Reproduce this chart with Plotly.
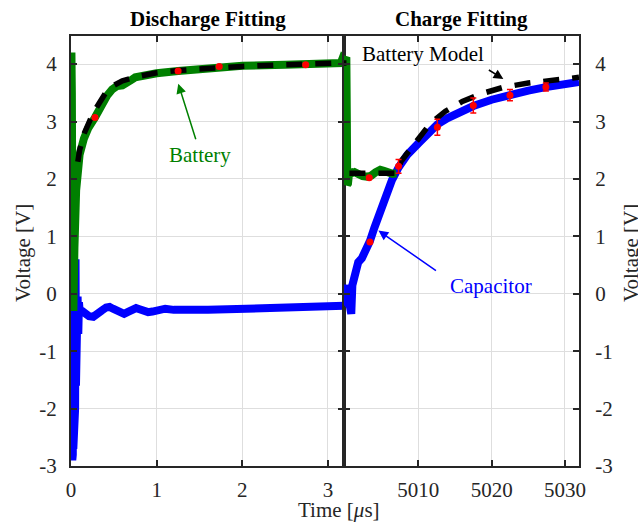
import plotly.graph_objects as go

# ---------------- data ----------------
# Discharge (left panel), time in microseconds
bat_dis_t = [0, 0.005, 0.01, 0.015, 0.02, 0.028, 0.04, 0.06, 0.08, 0.1, 0.15, 0.2, 0.28, 0.35, 0.42,
             0.48, 0.54, 0.6, 0.65, 0.7, 0.75, 0.85, 1.0, 1.25, 1.5, 1.75, 2.0, 2.5, 3.0, 3.15, 3.17, 3.19]
bat_dis_v = [3.8, 4.2, 3.5, 1.5, -0.1, -0.3, 0.8, 1.8, 2.2, 2.42, 2.7, 2.88, 3.07, 3.28, 3.45,
             3.56, 3.62, 3.63, 3.66, 3.72, 3.77, 3.81, 3.84, 3.88, 3.92, 3.96, 3.97, 3.99, 4.01, 4.02, 4.1, 4.07]

cap_dis_t = [0, 0.003, 0.006, 0.009, 0.012, 0.015, 0.018, 0.021, 0.024, 0.027, 0.03, 0.033, 0.036,
             0.04, 0.044, 0.048, 0.053, 0.058, 0.064, 0.07, 0.077, 0.085, 0.093, 0.1,
             0.13, 0.17, 0.21, 0.26, 0.31, 0.36, 0.41, 0.45, 0.49, 0.54, 0.58, 0.62, 0.66, 0.71,
             0.76, 0.8, 0.85, 0.9, 0.95, 1.02, 1.1, 1.2, 1.3, 1.45, 1.6, 1.8, 2.0, 2.3, 2.6, 3.0, 3.19]
cap_dis_v = [1.0, -2.9, 1.0, -2.9, 1.0, -2.9, 1.0, -2.8, 1.0, -2.7, 1.0, -2.5, 0.9,
             -2.3, 0.8, -2.0, 0.6, -1.6, 0.3, -1.1, -0.05, -0.7, -0.15, -0.28,
             -0.3, -0.36, -0.39, -0.4, -0.36, -0.29, -0.24, -0.23, -0.26, -0.31, -0.34, -0.35, -0.32, -0.27,
             -0.25, -0.27, -0.3, -0.32, -0.31, -0.28, -0.26, -0.28, -0.29, -0.28, -0.28, -0.27, -0.26, -0.25, -0.24, -0.22, -0.21]

model_dis_t = [0.08, 0.1, 0.15, 0.2, 0.25, 0.3, 0.35, 0.4, 0.45, 0.5, 0.6, 0.7, 0.8, 0.9, 1.0,
               1.25, 1.5, 1.75, 2.0, 2.5, 3.0, 3.19]
model_dis_v = [2.3, 2.5, 2.78, 2.98, 3.12, 3.25, 3.38, 3.49, 3.57, 3.63, 3.71, 3.76, 3.79, 3.82, 3.85,
               3.89, 3.92, 3.94, 3.96, 3.99, 4.01, 4.02]

fit_dis_t = [0.28, 1.25, 1.73, 2.74]
fit_dis_v = [3.07, 3.88, 3.96, 3.99]
fit_dis_e = [0.03, 0.02, 0.02, 0.02]

# Charge (right panel)
bat_chg_t = [4999.86, 5000.05, 5000.18, 5000.25, 5000.3, 5000.4, 5000.6, 5000.9, 5001.3, 5001.8,
             5002.4, 5003.0, 5003.6, 5004.2, 5004.8, 5005.3, 5005.9, 5006.5, 5007.0]
bat_chg_v = [4.06, 4.08, 4.12, 3.0, 1.9, 1.92, 2.15, 2.1, 2.12, 2.08,
             2.05, 2.04, 2.06, 2.12, 2.16, 2.14, 2.1, 2.09, 2.1]

cap_chg_t = [4999.86, 5000.05, 5000.15, 5000.3, 5000.5, 5000.7, 5000.85, 5001.0, 5001.3, 5001.8,
             5002.3, 5002.8, 5003.4, 5004.0, 5004.8, 5005.6, 5006.4, 5007.3, 5008.5, 5010.0,
             5011.2, 5012.6, 5014.0, 5015.5, 5017.5, 5020.0, 5022.5, 5025.0, 5027.4, 5030.0, 5031.92]
cap_chg_v = [-0.2, -0.18, 0.05, 0.15, -0.1, -0.3, -0.35, 0.15, 0.35, 0.55,
             0.62, 0.75, 0.92, 1.15, 1.45, 1.72, 1.98, 2.2, 2.42, 2.62,
             2.78, 2.95, 3.06, 3.16, 3.27, 3.38, 3.47, 3.54, 3.6, 3.65, 3.69]

model_chg_t = [4999.86, 5000.2, None, 5000.6, 5007.3, 5007.6, 5009.4, 5011.6, 5013.7, 5016.0,
               5018.5, 5021.7, 5025.0, 5028.0, 5031.92]
model_chg_v = [4.02, 4.02, None, 2.1, 2.1, 2.3, 2.59, 2.96, 3.18, 3.35,
               3.48, 3.6, 3.67, 3.72, 3.77]

fit_chg_t = [5003.3, 5003.4, 5007.3, 5012.6, 5017.5, 5022.5, 5027.4]
fit_chg_v = [2.02, 0.9, 2.22, 2.9, 3.28, 3.46, 3.6]
fit_chg_e = [0.0, 0.0, 0.12, 0.14, 0.13, 0.1, 0.07]

y_ticks = [-3, -2, -1, 0, 1, 2, 3, 4]
y_ticktext = ["-3", "-2", "-1", "0", "1", "2", "3", "4"]
x_ticks_left = [0, 1, 2, 3]
x_ticks_right = [5010, 5020, 5030]

# ---------------- style ----------------
FONT = "Liberation Serif, serif"
GREEN = "#008000"
BLUE = "#0000ff"
RED = "#ff0000"
AX = "#262626"
GRID = "rgb(222,222,222)"
FS = 21

fig = go.Figure()

for (xa, ya, ct, cv, bt, bv, mt, mv, ft, fv, fe) in [
    ("x", "y", cap_dis_t, cap_dis_v, bat_dis_t, bat_dis_v, model_dis_t, model_dis_v, fit_dis_t, fit_dis_v, fit_dis_e),
    ("x2", "y2", cap_chg_t, cap_chg_v, bat_chg_t, bat_chg_v, model_chg_t, model_chg_v, fit_chg_t, fit_chg_v, fit_chg_e),
]:
    fig.add_trace(go.Scatter(x=ct, y=cv, mode="lines", line=dict(color=BLUE, width=8),
                             xaxis=xa, yaxis=ya, showlegend=False, hoverinfo="skip"))
    fig.add_trace(go.Scatter(x=bt, y=bv, mode="lines", line=dict(color=GREEN, width=8),
                             xaxis=xa, yaxis=ya, showlegend=False, hoverinfo="skip"))
    fig.add_trace(go.Scatter(x=mt, y=mv, mode="lines", connectgaps=False,
                             line=dict(color="black", width=5.5, dash="16px,13px"),
                             xaxis=xa, yaxis=ya, showlegend=False, hoverinfo="skip"))
    fig.add_trace(go.Scatter(x=ft, y=fv, mode="markers",
                             marker=dict(color=RED, size=7),
                             error_y=dict(type="data", array=fe, color=RED, thickness=1.5, width=3),
                             xaxis=xa, yaxis=ya, showlegend=False, hoverinfo="skip"))

common_axis = dict(showline=True, linecolor=AX, linewidth=2, mirror="ticks",
                   ticks="inside", ticklen=6, tickwidth=2, tickcolor=AX,
                   showgrid=True, gridcolor=GRID, gridwidth=1, zeroline=False,
                   tickfont=dict(family=FONT, size=FS, color=AX))

fig.update_layout(
    width=638, height=523,
    margin=dict(l=71, r=59, t=36, b=57),
    paper_bgcolor="white", plot_bgcolor="white",
    font=dict(family=FONT, size=FS, color="black"),
    xaxis=dict(domain=[0, 0.5374], range=[0, 3.187], tickvals=x_ticks_left,
               anchor="y", ticklabelstandoff=4, **common_axis),
    yaxis=dict(domain=[0, 1], range=[-3, 4.49], tickvals=y_ticks, ticktext=y_ticktext,
               anchor="x", ticklabelstandoff=8, **common_axis),
    xaxis2=dict(domain=[0.5374, 1], range=[4999.86, 5031.92], tickvals=x_ticks_right,
                anchor="y2", ticklabelstandoff=4, **common_axis),
    yaxis2=dict(domain=[0, 1], range=[-3, 4.49], tickvals=y_ticks, ticktext=y_ticktext,
                anchor="x2", side="right", ticklabelstandoff=10, **common_axis),
)

annots = [
    # titles
    dict(text="<b>Discharge Fitting</b>", xref="paper", yref="paper", x=(207.5 - 71) / 508,
         y=1 + (36 - 19) / 430, xanchor="center", yanchor="middle", showarrow=False,
         font=dict(family=FONT, size=FS, color="black")),
    dict(text="<b>Charge Fitting</b>", xref="paper", yref="paper", x=(461 - 71) / 508,
         y=1 + (36 - 19) / 430, xanchor="center", yanchor="middle", showarrow=False,
         font=dict(family=FONT, size=FS, color="black")),
    # axis titles
    dict(text="Voltage [V]", xref="paper", yref="paper", x=(23 - 71) / 508, y=(466 - 253) / 430,
         xanchor="center", yanchor="middle", textangle=-90, showarrow=False,
         font=dict(family=FONT, size=FS, color=AX)),
    dict(text="Voltage [V]", xref="paper", yref="paper", x=(631 - 71) / 508, y=(466 - 253) / 430,
         xanchor="center", yanchor="middle", textangle=-90, showarrow=False,
         font=dict(family=FONT, size=FS, color=AX)),
    dict(text="Time [<i>μ</i>s]", xref="paper", yref="paper", x=(339 - 71) / 508, y=(466 - 510) / 430,
         xanchor="center", yanchor="middle", showarrow=False,
         font=dict(family=FONT, size=FS, color=AX)),
    # labels
    dict(text="Battery", xref="x", yref="y", x=1.506, y=2.41, showarrow=False,
         xanchor="center", yanchor="middle", font=dict(family=FONT, size=FS, color=GREEN)),
    dict(text="", xref="x", yref="y", x=1.252, y=3.66, ax=18, ay=57, showarrow=True,
         arrowhead=2, arrowsize=1.3, arrowwidth=1.5, arrowcolor=GREEN),
    dict(text="Capacitor", xref="x2", yref="y2", x=5019.9, y=0.13, showarrow=False,
         xanchor="center", yanchor="middle", font=dict(family=FONT, size=FS, color=BLUE)),
    dict(text="", xref="x2", yref="y2", x=5004.56, y=1.10, ax=59, ay=41, showarrow=True,
         arrowhead=2, arrowsize=1.3, arrowwidth=1.5, arrowcolor=BLUE),
    dict(text="Battery Model", xref="x2", yref="y2", x=5010.6, y=4.17, showarrow=False,
         xanchor="center", yanchor="middle", font=dict(family=FONT, size=FS, color="black")),
    dict(text="", xref="x2", yref="y2", x=5021.6, y=3.74, ax=-16, ay=-10, showarrow=True,
         arrowhead=2, arrowsize=1.3, arrowwidth=1.5, arrowcolor="black"),
]
fig.update_layout(annotations=annots)

fig.write_html("out.html", config={"displayModeBar": False},
               post_script="document.body.style.margin='0';document.body.style.overflow='hidden';")
